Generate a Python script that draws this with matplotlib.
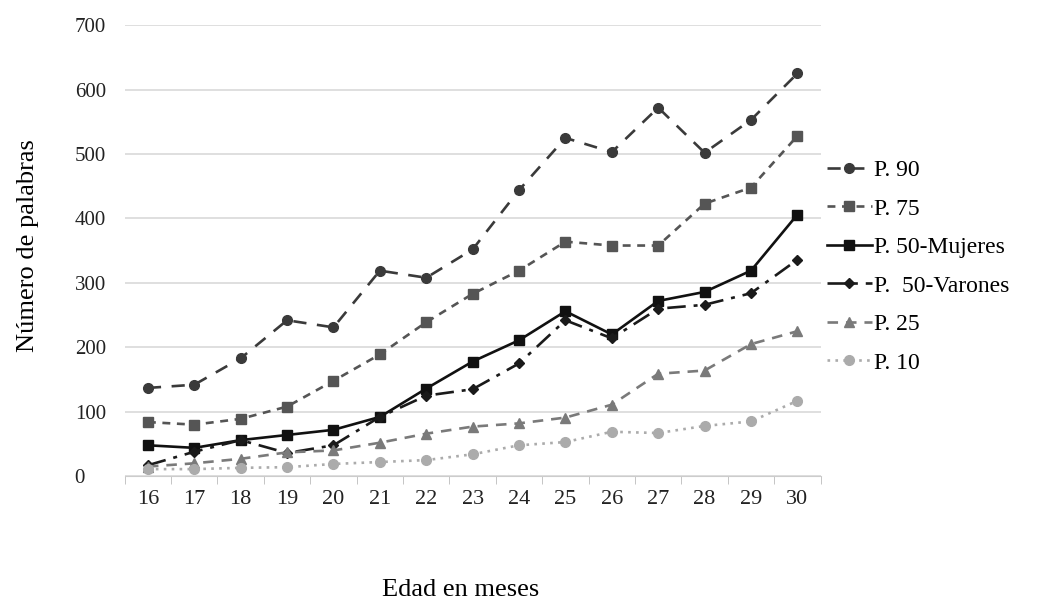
import matplotlib.pyplot as plt

# data
months = [16, 17, 18, 19, 20, 21, 22, 23, 24, 25, 26, 27, 28, 29, 30]
p90 = [137, 142, 183, 242, 231, 319, 308, 352, 444, 525, 503, 572, 502, 553, 625]
p75 = [84, 80, 89, 108, 148, 189, 239, 283, 319, 364, 358, 358, 423, 448, 528]
p50_muj = [48, 44, 56, 64, 72, 92, 136, 178, 211, 256, 220, 272, 286, 319, 406]
p50_var = [17, 38, 56, 36, 48, 92, 125, 135, 175, 242, 214, 260, 266, 284, 336]
p25 = [15, 20, 27, 37, 40, 52, 66, 77, 82, 91, 111, 159, 164, 205, 225]
p10 = [11, 11, 13, 14, 19, 22, 25, 34, 48, 53, 69, 67, 78, 85, 117]
labels = ["P. 90", "P. 75", "P. 50-Mujeres", "P.  50-Varones", "P. 25", "P. 10"]

SERIF = ["Liberation Serif", "DejaVu Serif"]
plt.rcParams["font.family"] = SERIF

fig = plt.figure(figsize=(10.48, 5.99), dpi=100)
ax = fig.add_axes([0.119, 0.205, 0.664, 0.753])

styles = [
    dict(color="#3a3a3a", ls=(0, (5, 4)), marker="o", ms=7),
    dict(color="#555555", ls=(0, (3, 2.5)), marker="s", ms=7),
    dict(color="#111111", ls="-", marker="s", ms=6.5),
    dict(color="#1a1a1a", ls=(0, (7, 3, 1.5, 3)), marker="D", ms=5),
    dict(color="#7a7a7a", ls=(0, (4, 3)), marker="^", ms=7.5),
    dict(color="#ababab", ls=(0, (1, 2)), marker="o", ms=7),
]
series = [p90, p75, p50_muj, p50_var, p25, p10]

handles = []
for vals, st, lab in zip(series, styles, labels):
    line, = ax.plot(months, vals, color=st["color"], linestyle=st["ls"],
                    lw=1.9, marker=st["marker"], markersize=st["ms"],
                    markeredgecolor=st["color"], markerfacecolor=st["color"],
                    label=lab)
    handles.append(line)

ax.set_xlim(15.5, 30.5)
ax.set_ylim(0, 700)
ax.set_yticks(range(0, 701, 100))
ax.set_xticks(months)
ax.set_xticks([m + 0.5 for m in [15] + months], minor=True)
ax.tick_params(axis="x", which="major", length=0, labelsize=16, pad=10,
               labelcolor="#222222")
ax.tick_params(axis="x", which="minor", length=6, color="#bbbbbb")
ax.tick_params(axis="y", length=0, labelsize=15, pad=36, labelcolor="#222222")
for lbl in ax.get_yticklabels():
    lbl.set_horizontalalignment("left")

ax.grid(axis="y", color="#d9d9d9", lw=1.2)
ax.set_axisbelow(True)
for s in ["top", "right", "left"]:
    ax.spines[s].set_visible(False)
ax.spines["bottom"].set_color("#cccccc")

fig.text(0.027, 0.59, "Número de palabras", fontsize=19, rotation=90,
         ha="center", va="center")
fig.text(0.44, 1 - 590 / 599, "Edad en meses", fontsize=19,
         ha="center", va="center")

fig.legend(handles=handles, loc="center left", bbox_to_anchor=(0.78, 0.555),
           frameon=False, fontsize=17, handlelength=1.9, handletextpad=0.1,
           labelspacing=0.72, borderaxespad=0)

fig.savefig("out.png", dpi=100)
